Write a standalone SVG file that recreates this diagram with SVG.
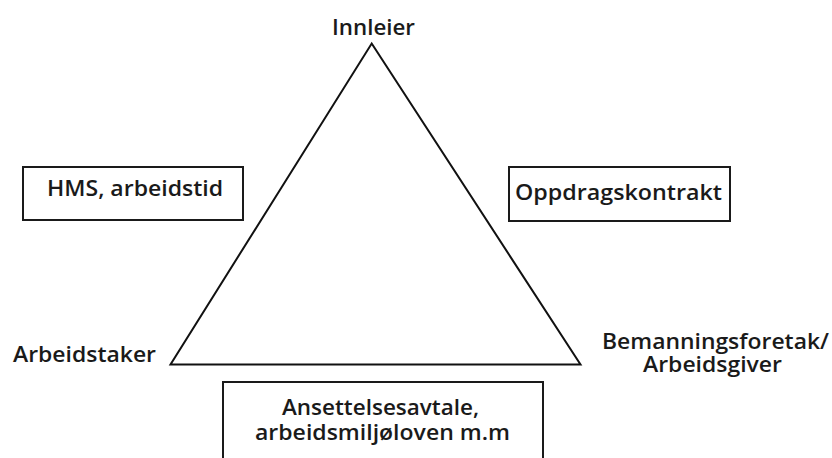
<svg xmlns="http://www.w3.org/2000/svg" width="832" height="458" viewBox="0 0 832 458">
  <style>
    .lbl { font-family: "Open Sans", "Noto Sans", "Liberation Sans", sans-serif; font-size: 21.5px; font-weight: 600; fill: #1a1a1a; }
    .box { fill: #ffffff; stroke: #1a1a1a; stroke-width: 2; }
    .edge { fill: none; stroke: #111111; stroke-width: 2; stroke-linejoin: miter; }
  </style>
  <rect width="832" height="458" fill="#ffffff"/>

  <!-- triangle linking the three parties -->
  <g id="connectors">
    <path class="edge" d="M371.7,43.5 L580.5,364.5 L170.5,364.5 Z"/>
  </g>

  <g id="innleier">
    <text class="lbl" x="332" y="35" textLength="83" lengthAdjust="spacingAndGlyphs">Innleier</text>
  </g>

  <g id="arbeidstaker">
    <text class="lbl" x="13" y="362" textLength="143" lengthAdjust="spacingAndGlyphs">Arbeidstaker</text>
  </g>

  <g id="bemanningsforetak">
    <text class="lbl" x="602" y="349" textLength="227" lengthAdjust="spacingAndGlyphs">Bemanningsforetak/</text>
    <text class="lbl" x="643" y="372" textLength="139" lengthAdjust="spacingAndGlyphs">Arbeidsgiver</text>
  </g>

  <g id="hms">
    <rect class="box" x="23" y="167" width="220" height="53"/>
    <text class="lbl" x="47" y="196" textLength="176" lengthAdjust="spacingAndGlyphs">HMS, arbeidstid</text>
  </g>

  <g id="oppdragskontrakt">
    <rect class="box" x="509" y="167" width="221" height="54"/>
    <text class="lbl" x="515" y="200" textLength="207" lengthAdjust="spacingAndGlyphs">Oppdragskontrakt</text>
  </g>

  <g id="ansettelsesavtale">
    <rect class="box" x="223" y="382" width="320" height="90"/>
    <text class="lbl" x="282" y="415" textLength="197" lengthAdjust="spacingAndGlyphs">Ansettelsesavtale,</text>
    <text class="lbl" x="255" y="440" textLength="255" lengthAdjust="spacingAndGlyphs">arbeidsmiljøloven m.m</text>
  </g>
</svg>
